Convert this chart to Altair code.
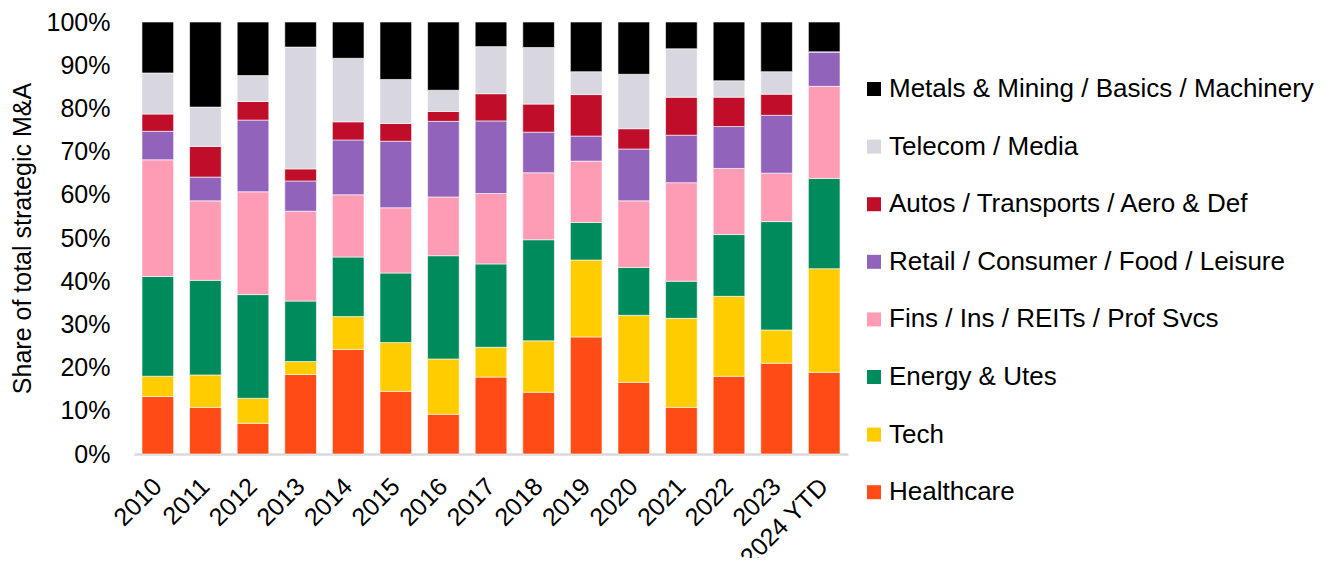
import altair as alt
import pandas as pd

years = ["2010", "2011", "2012", "2013", "2014", "2015", "2016", "2017",
         "2018", "2019", "2020", "2021", "2022", "2023", "2024 YTD"]

series = ["Healthcare", "Tech", "Energy & Utes", "Fins / Ins / REITs / Prof Svcs",
          "Retail / Consumer / Food / Leisure", "Autos / Transports / Aero & Def",
          "Telecom / Media", "Metals & Mining / Basics / Machinery"]

colors = ["#FF4B15", "#FFCC00", "#008B5C", "#FE9CB5",
          "#9163BA", "#BF0D2A", "#D8D6DF", "#000000"]

healthcare = [13.3, 10.8, 7.1, 18.4, 24.2, 14.5, 9.2, 17.8, 14.3, 27.1, 16.6, 10.8, 18.0, 21.0, 18.9]
tech = [4.7, 7.5, 5.8, 3.0, 7.6, 11.3, 12.8, 6.9, 11.9, 17.8, 15.5, 20.6, 18.5, 7.7, 24.0]
energy = [23.1, 21.9, 24.0, 14.0, 13.8, 16.1, 23.9, 19.3, 23.4, 8.7, 11.1, 8.6, 14.3, 25.1, 20.9]
fins = [27.0, 18.4, 23.8, 20.8, 14.4, 15.1, 13.6, 16.3, 15.5, 14.2, 15.4, 22.8, 15.3, 11.2, 21.3]
retail = [6.6, 5.5, 16.6, 7.0, 12.7, 15.4, 17.5, 16.8, 9.4, 5.8, 12.0, 11.0, 9.7, 13.4, 8.0]
autos = [4.0, 7.1, 4.3, 2.8, 4.2, 4.1, 2.3, 6.3, 6.5, 9.6, 4.7, 8.8, 6.8, 4.9, 0.0]
telecom = [9.5, 9.1, 6.0, 28.2, 14.7, 10.2, 4.9, 10.9, 13.1, 5.3, 12.6, 11.2, 3.8, 5.2, 0.0]
metals = [11.8, 19.7, 12.4, 5.8, 8.4, 13.3, 15.8, 5.7, 5.9, 11.5, 12.1, 6.2, 13.6, 11.5, 6.9]

y_ticks = [0, 10, 20, 30, 40, 50, 60, 70, 80, 90, 100]

values = [healthcare, tech, energy, fins, retail, autos, telecom, metals]
rows = []
for si, (name, vals) in enumerate(zip(series, values)):
    for yr, v in zip(years, vals):
        rows.append({"year": yr, "sector": name, "share": v, "stack_order": si})
df = pd.DataFrame(rows)

FONT = "Liberation Sans"

chart = alt.Chart(df).mark_bar(stroke="white", strokeWidth=0.6).encode(
    x=alt.X("year:N", sort=years,
            scale=alt.Scale(paddingInner=0.335, paddingOuter=0.1675),
            axis=alt.Axis(title=None, labelAngle=-45, labelAlign="right", labelBaseline="middle",
                          labelFontSize=25, labelFont=FONT,
                          labelColor="#000000", labelPadding=28, ticks=False,
                          domainColor="#D9D9D9", domainWidth=2.5, labelOverlap=False)),
    y=alt.Y("share:Q", stack="zero",
            scale=alt.Scale(domain=[0, 100], nice=False),
            axis=alt.Axis(title="Share of total strategic M&A", values=y_ticks,
                          labelExpr="datum.value + '%'", labelFontSize=25, labelFont=FONT,
                          labelColor="#000000", labelPadding=24, ticks=False, domain=False,
                          grid=False, titleFontSize=25, titleFont=FONT, titleFontWeight="normal",
                          titleColor="#000000", titlePadding=11)),
    color=alt.Color("sector:N",
                    scale=alt.Scale(domain=series[::-1], range=colors[::-1]),
                    legend=alt.Legend(title=None, orient="none", legendX=727, legendY=54,
                                      symbolType="square", symbolSize=196,
                                      symbolStrokeWidth=0, labelFontSize=26, labelFont=FONT,
                                      labelColor="#000000", labelOffset=2, rowPadding=31.6,
                                      labelLimit=600)),
    order=alt.Order("stack_order:Q", sort="ascending"),
).properties(
    width=714, height=432,
    autosize="none",
    padding={"left": 126, "top": 14, "right": 478, "bottom": 104},
).configure_view(stroke=None)

chart.save("out.html", embed_options={"renderer": "svg", "actions": False})
